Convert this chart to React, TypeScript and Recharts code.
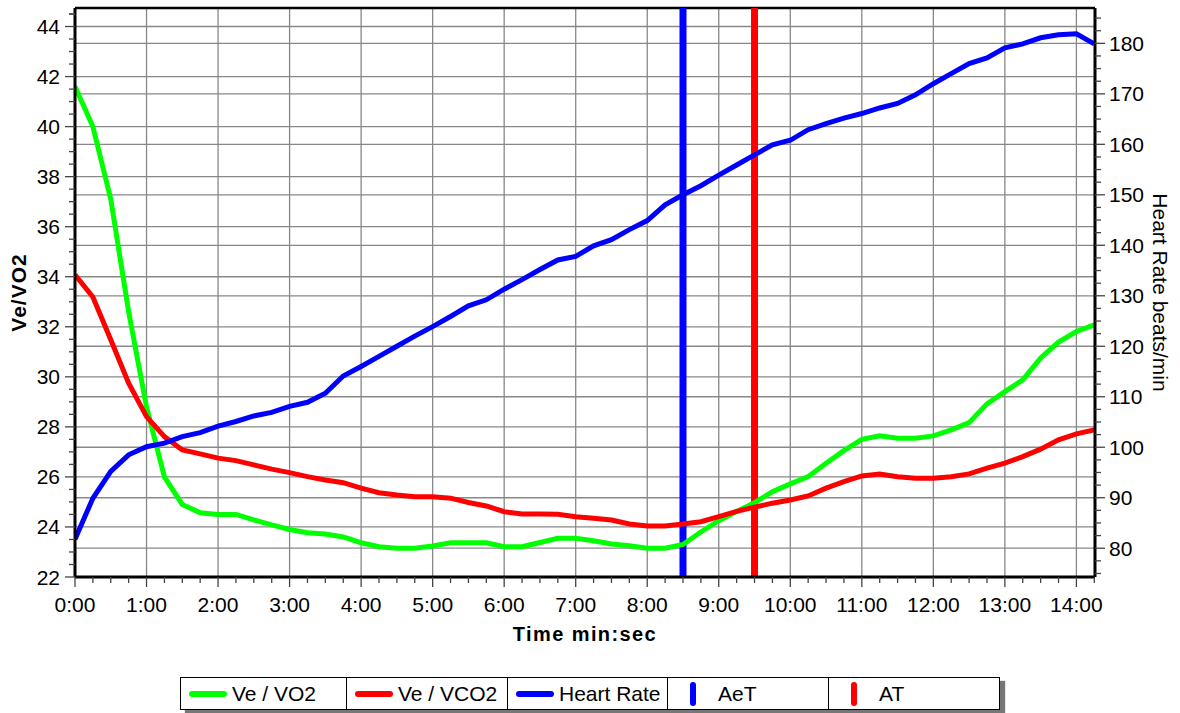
import { LineChart, Line, XAxis, YAxis, CartesianGrid, ReferenceLine } from "recharts"

// time in minutes, one sample every 15 s
const times = [
  0, 0.25, 0.5, 0.75, 1, 1.25, 1.5, 1.75, 2, 2.25, 2.5, 2.75, 3, 3.25, 3.5, 3.75,
  4, 4.25, 4.5, 4.75, 5, 5.25, 5.5, 5.75, 6, 6.25, 6.5, 6.75, 7, 7.25, 7.5, 7.75,
  8, 8.25, 8.5, 8.75, 9, 9.25, 9.5, 9.75, 10, 10.25, 10.5, 10.75, 11, 11.25, 11.5, 11.75,
  12, 12.25, 12.5, 12.75, 13, 13.25, 13.5, 13.75, 14, 14.25,
]

const veVo2 = [
  41.6, 40.0, 37.1, 32.6, 28.8, 26.0, 24.9, 24.57, 24.5, 24.5, 24.28, 24.08, 23.9, 23.77, 23.72, 23.6,
  23.37, 23.21, 23.15, 23.15, 23.24, 23.37, 23.37, 23.37, 23.21, 23.21, 23.38, 23.55, 23.55, 23.45, 23.32, 23.25,
  23.15, 23.15, 23.3, 23.8, 24.25, 24.62, 24.97, 25.41, 25.72, 26.01, 26.55, 27.05, 27.5, 27.64, 27.55, 27.55,
  27.64, 27.88, 28.17, 28.92, 29.41, 29.88, 30.75, 31.39, 31.81, 32.08,
]

const veVco2 = [
  34.08, 33.19, 31.48, 29.75, 28.41, 27.61, 27.08, 26.92, 26.75, 26.65, 26.48, 26.31, 26.17, 26.01, 25.88, 25.77,
  25.55, 25.37, 25.28, 25.21, 25.21, 25.15, 24.98, 24.84, 24.61, 24.52, 24.52, 24.51, 24.41, 24.35, 24.28, 24.12,
  24.04, 24.04, 24.12, 24.21, 24.41, 24.62, 24.79, 24.95, 25.08, 25.24, 25.55, 25.81, 26.04, 26.12, 26.01, 25.95,
  25.95, 26.01, 26.12, 26.35, 26.55, 26.81, 27.11, 27.48, 27.72, 27.88,
]

const heartRate = [
  81.8, 89.9, 95.2, 98.5, 100.1, 100.8, 102.1, 102.9, 104.2, 105.1, 106.2, 106.9, 108.1, 108.9, 110.7, 114.1,
  116.0, 118.0, 120.0, 122.0, 123.9, 125.9, 128.0, 129.2, 131.3, 133.2, 135.2, 137.1, 137.8, 139.9, 141.1, 143.1,
  144.9, 148.0, 150.0, 151.8, 153.9, 155.9, 157.9, 159.9, 160.8, 162.9, 164.1, 165.2, 166.1, 167.2, 168.1, 169.8,
  172.0, 174.0, 176.0, 177.1, 179.1, 179.9, 181.1, 181.7, 181.9, 179.9,
]

const aetTime = 8.5
const atTime = 9.5

const minuteTicks = [0, 1, 2, 3, 4, 5, 6, 7, 8, 9, 10, 11, 12, 13, 14]
const leftTicks = [22, 24, 26, 28, 30, 32, 34, 36, 38, 40, 42, 44]
const rightTicks = [80, 90, 100, 110, 120, 130, 140, 150, 160, 170, 180]

const xDomain = [0, 14.26]
const leftDomain = [22, 44.74]
const rightDomain = [74.3, 187.0]

// minor ticks: x every 15 s, left every 0.5, right every 2.5
const xAllTicks = times
const leftAllTicks = [...leftTicks.flatMap((t) => [t, t + 0.5, t + 1, t + 1.5]), 44.5].filter((t) => t <= 44.5)
const rightAllTicks = [75, 77.5, ...rightTicks.flatMap((t) => [t, t + 2.5, t + 5, t + 7.5])].filter((t) => t <= 185)

const data = times.map((t, i) => ({
  t,
  vo2: veVo2[i],
  vco2: veVco2[i],
  hr: heartRate[i],
}))

const FONT = '"Liberation Sans", Arial, sans-serif'
const TICK_COLOR = "#444"

const XTick = (props: any) => {
  const { x, y, payload } = props
  const v = payload.value
  const major = Number.isInteger(v)
  return (
    <g>
      <line x1={x} x2={x} y1={y} y2={y + (major ? 10 : 6)} stroke={TICK_COLOR} strokeWidth={1.3} />
      {major && (
        <text x={x} y={y + 35} textAnchor="middle" fontSize={21} fontFamily={FONT} fill="#000">
          {`${v}:00`}
        </text>
      )}
    </g>
  )
}

const LeftTick = (props: any) => {
  const { x, y, payload } = props
  const v = payload.value
  const major = leftTicks.includes(v)
  return (
    <g>
      <line x1={x} x2={x - (major ? 10 : 6)} y1={y} y2={y} stroke={TICK_COLOR} strokeWidth={1.3} />
      {major && (
        <text x={x - 15} y={y + 7.5} textAnchor="end" fontSize={21} fontFamily={FONT} fill="#000">
          {v}
        </text>
      )}
    </g>
  )
}

const RightTick = (props: any) => {
  const { x, y, payload } = props
  const v = payload.value
  const major = rightTicks.includes(v)
  return (
    <g>
      <line x1={x} x2={x + (major ? 10 : 6)} y1={y} y2={y} stroke={TICK_COLOR} strokeWidth={1.3} />
      {major && (
        <text x={x + 14} y={y + 7.5} textAnchor="start" fontSize={21} fontFamily={FONT} fill="#000">
          {v}
        </text>
      )}
    </g>
  )
}

const legendItems = [
  { label: "Ve / VO2", color: "#00ff00", vertical: false, width: 165 },
  { label: "Ve / VCO2", color: "#ff0000", vertical: false, width: 161 },
  { label: "Heart Rate", color: "#0000ff", vertical: false, width: 160 },
  { label: "AeT", color: "#0000ff", vertical: true, width: 161 },
  { label: "AT", color: "#ff0000", vertical: true, width: 171 },
]

function ChartLegend() {
  return (
    <div
      style={{
        position: "absolute",
        left: 180,
        top: 677,
        height: 33,
        display: "flex",
        border: "1.5px solid #000",
        background: "#fff",
        boxShadow: "5px 4px 1px #777",
        fontFamily: FONT,
        fontSize: 21,
        boxSizing: "border-box",
      }}
    >
      {legendItems.map((it, i) => (
        <div
          key={it.label}
          style={{
            width: it.width,
            display: "flex",
            alignItems: "center",
            borderLeft: i === 0 ? "none" : "1.5px solid #000",
            boxSizing: "border-box",
            paddingLeft: it.vertical ? 22 : 8,
          }}
        >
          <span
            style={{
              display: "inline-block",
              background: it.color,
              borderRadius: 4,
              width: it.vertical ? 6 : 38,
              height: it.vertical ? 24 : 6,
              marginRight: it.vertical ? 22 : 5,
            }}
          />
          <span>{it.label}</span>
        </div>
      ))}
    </div>
  )
}

export default function App() {
  return (
    <div style={{ position: "absolute", left: 0, top: 0, width: 1180, height: 713, background: "#fff" }}>
      <LineChart width={1180} height={660} data={data} margin={{ top: 8, right: 0, bottom: 23, left: 0 }}>
        <CartesianGrid yAxisId="left" vertical={false} horizontalValues={leftTicks} stroke="#888" strokeWidth={1.3} />
        <CartesianGrid yAxisId="right" vertical={false} horizontalValues={rightTicks} stroke="#888" strokeWidth={1.3} />
        <CartesianGrid yAxisId="left" horizontal={false} verticalValues={minuteTicks} stroke="#888" strokeWidth={1.3} />
        <XAxis
          dataKey="t"
          type="number"
          domain={xDomain}
          allowDataOverflow
          ticks={xAllTicks}
          interval={0}
          tick={<XTick />}
          tickLine={false}
          tickSize={0}
          tickMargin={0}
          height={60}
          axisLine={{ stroke: "#000", strokeWidth: 3 }}
          label={(p: any) => {
            const vb = p.viewBox
            return (
              <text
                x={vb.x + vb.width / 2}
                y={vb.y + 64}
                textAnchor="middle"
                fontSize={20}
                fontWeight="bold"
                fontFamily={FONT}
                letterSpacing={1.4}
              >
                Time min:sec
              </text>
            )
          }}
        />
        <YAxis
          yAxisId="left"
          orientation="left"
          type="number"
          domain={leftDomain}
          allowDataOverflow
          ticks={leftAllTicks}
          interval={0}
          tick={<LeftTick />}
          tickLine={false}
          tickSize={0}
          tickMargin={0}
          width={75}
          axisLine={{ stroke: "#000", strokeWidth: 3 }}
          label={(p: any) => {
            const vb = p.viewBox
            const cx = vb.x + 18
            const cy = vb.y + vb.height / 2
            return (
              <text
                x={cx}
                y={cy}
                transform={`rotate(-90 ${cx} ${cy})`}
                textAnchor="middle"
                dominantBaseline="central"
                fontSize={21}
                fontWeight="bold"
                fontFamily={FONT}
                letterSpacing={1}
              >
                Ve/VO2
              </text>
            )
          }}
        />
        <YAxis
          yAxisId="right"
          orientation="right"
          type="number"
          domain={rightDomain}
          allowDataOverflow
          ticks={rightAllTicks}
          interval={0}
          tick={<RightTick />}
          tickLine={false}
          tickSize={0}
          tickMargin={0}
          width={85}
          axisLine={{ stroke: "#000", strokeWidth: 3 }}
          label={(p: any) => {
            const vb = p.viewBox
            const cx = vb.x + 65
            const cy = vb.y + vb.height / 2
            return (
              <text
                x={cx}
                y={cy}
                transform={`rotate(90 ${cx} ${cy})`}
                textAnchor="middle"
                dominantBaseline="central"
                fontSize={21}
                fontFamily={FONT}
              >
                Heart Rate beats/min
              </text>
            )
          }}
        />
        <ReferenceLine yAxisId="left" y={leftDomain[1]} stroke="#000" strokeWidth={2.5} />
        <ReferenceLine yAxisId="left" x={aetTime} stroke="#0000ff" strokeWidth={7} />
        <ReferenceLine yAxisId="left" x={atTime} stroke="#ff0000" strokeWidth={7} />
        <Line yAxisId="left" type="linear" dataKey="vo2" stroke="#00ff00" strokeWidth={5} dot={false} isAnimationActive={false} />
        <Line yAxisId="left" type="linear" dataKey="vco2" stroke="#ff0000" strokeWidth={5} dot={false} isAnimationActive={false} />
        <Line yAxisId="right" type="linear" dataKey="hr" stroke="#0000ff" strokeWidth={5} dot={false} isAnimationActive={false} />
      </LineChart>
      <ChartLegend />
    </div>
  )
}
